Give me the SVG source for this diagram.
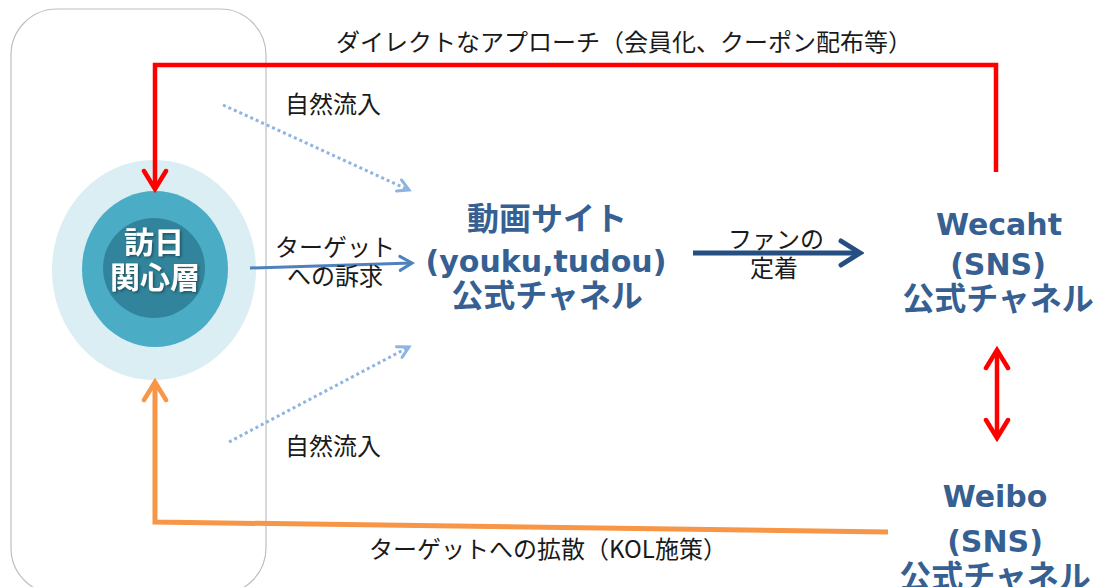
<svg xmlns="http://www.w3.org/2000/svg" width="1099" height="587" viewBox="0 0 1099 587">
  <defs>
    <style>
      .lbl { font-family: "Noto Sans CJK JP", "Noto Sans", sans-serif; font-size: 24px; fill: #1a1a1a; text-anchor: middle; }
      .node { font-family: "DejaVu Sans", "Noto Sans CJK JP", sans-serif; font-weight: bold; fill: #376092; text-anchor: middle; }
      .jp { font-family: "Noto Sans CJK JP", sans-serif; font-size: 32px; }
      .lat { font-size: 30px; }
      .core { font-family: "Noto Sans CJK JP", sans-serif; font-weight: bold; font-size: 30px; fill: #ffffff; text-anchor: middle; filter: url(#shadow); }
    </style>
    <filter id="shadow" x="-20%" y="-20%" width="140%" height="140%">
      <feDropShadow dx="1.5" dy="1.5" stdDeviation="1" flood-color="#1a3a44" flood-opacity="0.7"/>
    </filter>
    <marker id="hRed" markerUnits="userSpaceOnUse" viewBox="-22 -14 26 28" refX="0" refY="0" markerWidth="26" markerHeight="28" orient="auto-start-reverse">
      <path d="M-18,-11 L0,0 L-18,11" fill="none" stroke="#FF0000" stroke-width="4.5" stroke-linecap="round" stroke-linejoin="miter"/>
    </marker>
    <marker id="hOrange" markerUnits="userSpaceOnUse" viewBox="-22 -14 26 28" refX="0" refY="0" markerWidth="26" markerHeight="28" orient="auto">
      <path d="M-18,-11 L0,0 L-18,11" fill="none" stroke="#F79646" stroke-width="4.5" stroke-linecap="round"/>
    </marker>
    <marker id="hBlue" markerUnits="userSpaceOnUse" viewBox="-16 -10 20 20" refX="0" refY="0" markerWidth="20" markerHeight="20" orient="auto">
      <path d="M-12,-7 L0,0 L-12,7" fill="none" stroke="#4F81BD" stroke-width="3" stroke-linecap="round"/>
    </marker>
    <marker id="hDot" markerUnits="userSpaceOnUse" viewBox="-16 -10 20 20" refX="0" refY="0" markerWidth="20" markerHeight="20" orient="auto">
      <path d="M-11,-6 L0,0 L-11,6" fill="none" stroke="#8DB4E2" stroke-width="3" stroke-linecap="round"/>
    </marker>
    <marker id="hNavy" markerUnits="userSpaceOnUse" viewBox="-24 -16 28 32" refX="0" refY="0" markerWidth="28" markerHeight="32" orient="auto">
      <path d="M-19,-12 L0,0 L-19,12" fill="none" stroke="#254E83" stroke-width="5" stroke-linecap="round"/>
    </marker>
  </defs>

  <rect x="0" y="0" width="1099" height="587" fill="#ffffff"/>

  <g id="frame">
    <rect x="11" y="9" width="255" height="585" rx="46" ry="46" fill="none" stroke="#BFBFBF" stroke-width="1.2"/>
  </g>

  <g id="core">
    <ellipse cx="154" cy="270" rx="102" ry="110" fill="#DAEEF3"/>
    <ellipse cx="155" cy="269" rx="73" ry="78" fill="#4BACC6"/>
    <ellipse cx="154" cy="268" rx="51" ry="50" fill="#31849B"/>
    <text class="core" x="154" y="253">訪日</text>
    <text class="core" x="155" y="288">関心層</text>
  </g>

  <g id="connectors">
    <path d="M996,172 L996,65 L155,65 L155,189" fill="none" stroke="#FF0000" stroke-width="4.5" marker-end="url(#hRed)"/>
    <path d="M888,532 L155,522 L155,382" fill="none" stroke="#F79646" stroke-width="5" marker-end="url(#hOrange)"/>
    <line x1="250" y1="268" x2="412" y2="263" stroke="#4F81BD" stroke-width="3" marker-end="url(#hBlue)"/>
    <line x1="223" y1="105" x2="409" y2="190" stroke="#8DB4E2" stroke-width="3" stroke-dasharray="3 3" marker-end="url(#hDot)"/>
    <line x1="229" y1="442" x2="409" y2="347" stroke="#8DB4E2" stroke-width="3" stroke-dasharray="3 3" marker-end="url(#hDot)"/>
    <line x1="693" y1="253" x2="860" y2="253" stroke="#254E83" stroke-width="5" marker-end="url(#hNavy)"/>
    <line x1="997" y1="350" x2="997" y2="438" stroke="#FF0000" stroke-width="4.5" marker-start="url(#hRed)" marker-end="url(#hRed)"/>
  </g>

  <g id="labels">
    <text class="lbl" x="624" y="51">ダイレクトなアプローチ（会員化、クーポン配布等）</text>
    <text class="lbl" x="333" y="113">自然流入</text>
    <text class="lbl" x="333" y="455">自然流入</text>
    <text class="lbl" x="335" y="256">ターゲット</text>
    <text class="lbl" x="335" y="285">への訴求</text>
    <text class="lbl" x="776" y="248">ファンの</text>
    <text class="lbl" x="774" y="277">定着</text>
    <text class="lbl" x="548" y="558">ターゲットへの拡散（KOL施策）</text>
  </g>

  <g id="video">
    <text class="node jp" x="547" y="230">動画サイト</text>
    <text class="node lat" x="546" y="272">(youku,tudou)</text>
    <text class="node jp" x="547" y="307">公式チャネル</text>
  </g>

  <g id="wechat">
    <text class="node lat" x="999" y="235">Wecaht</text>
    <text class="node lat" x="998" y="275">(SNS)</text>
    <text class="node jp" x="998" y="310">公式チャネル</text>
  </g>

  <g id="weibo">
    <text class="node lat" x="995" y="507">Weibo</text>
    <text class="node lat" x="995" y="552">(SNS)</text>
    <text class="node jp" x="995" y="588">公式チャネル</text>
  </g>
</svg>
